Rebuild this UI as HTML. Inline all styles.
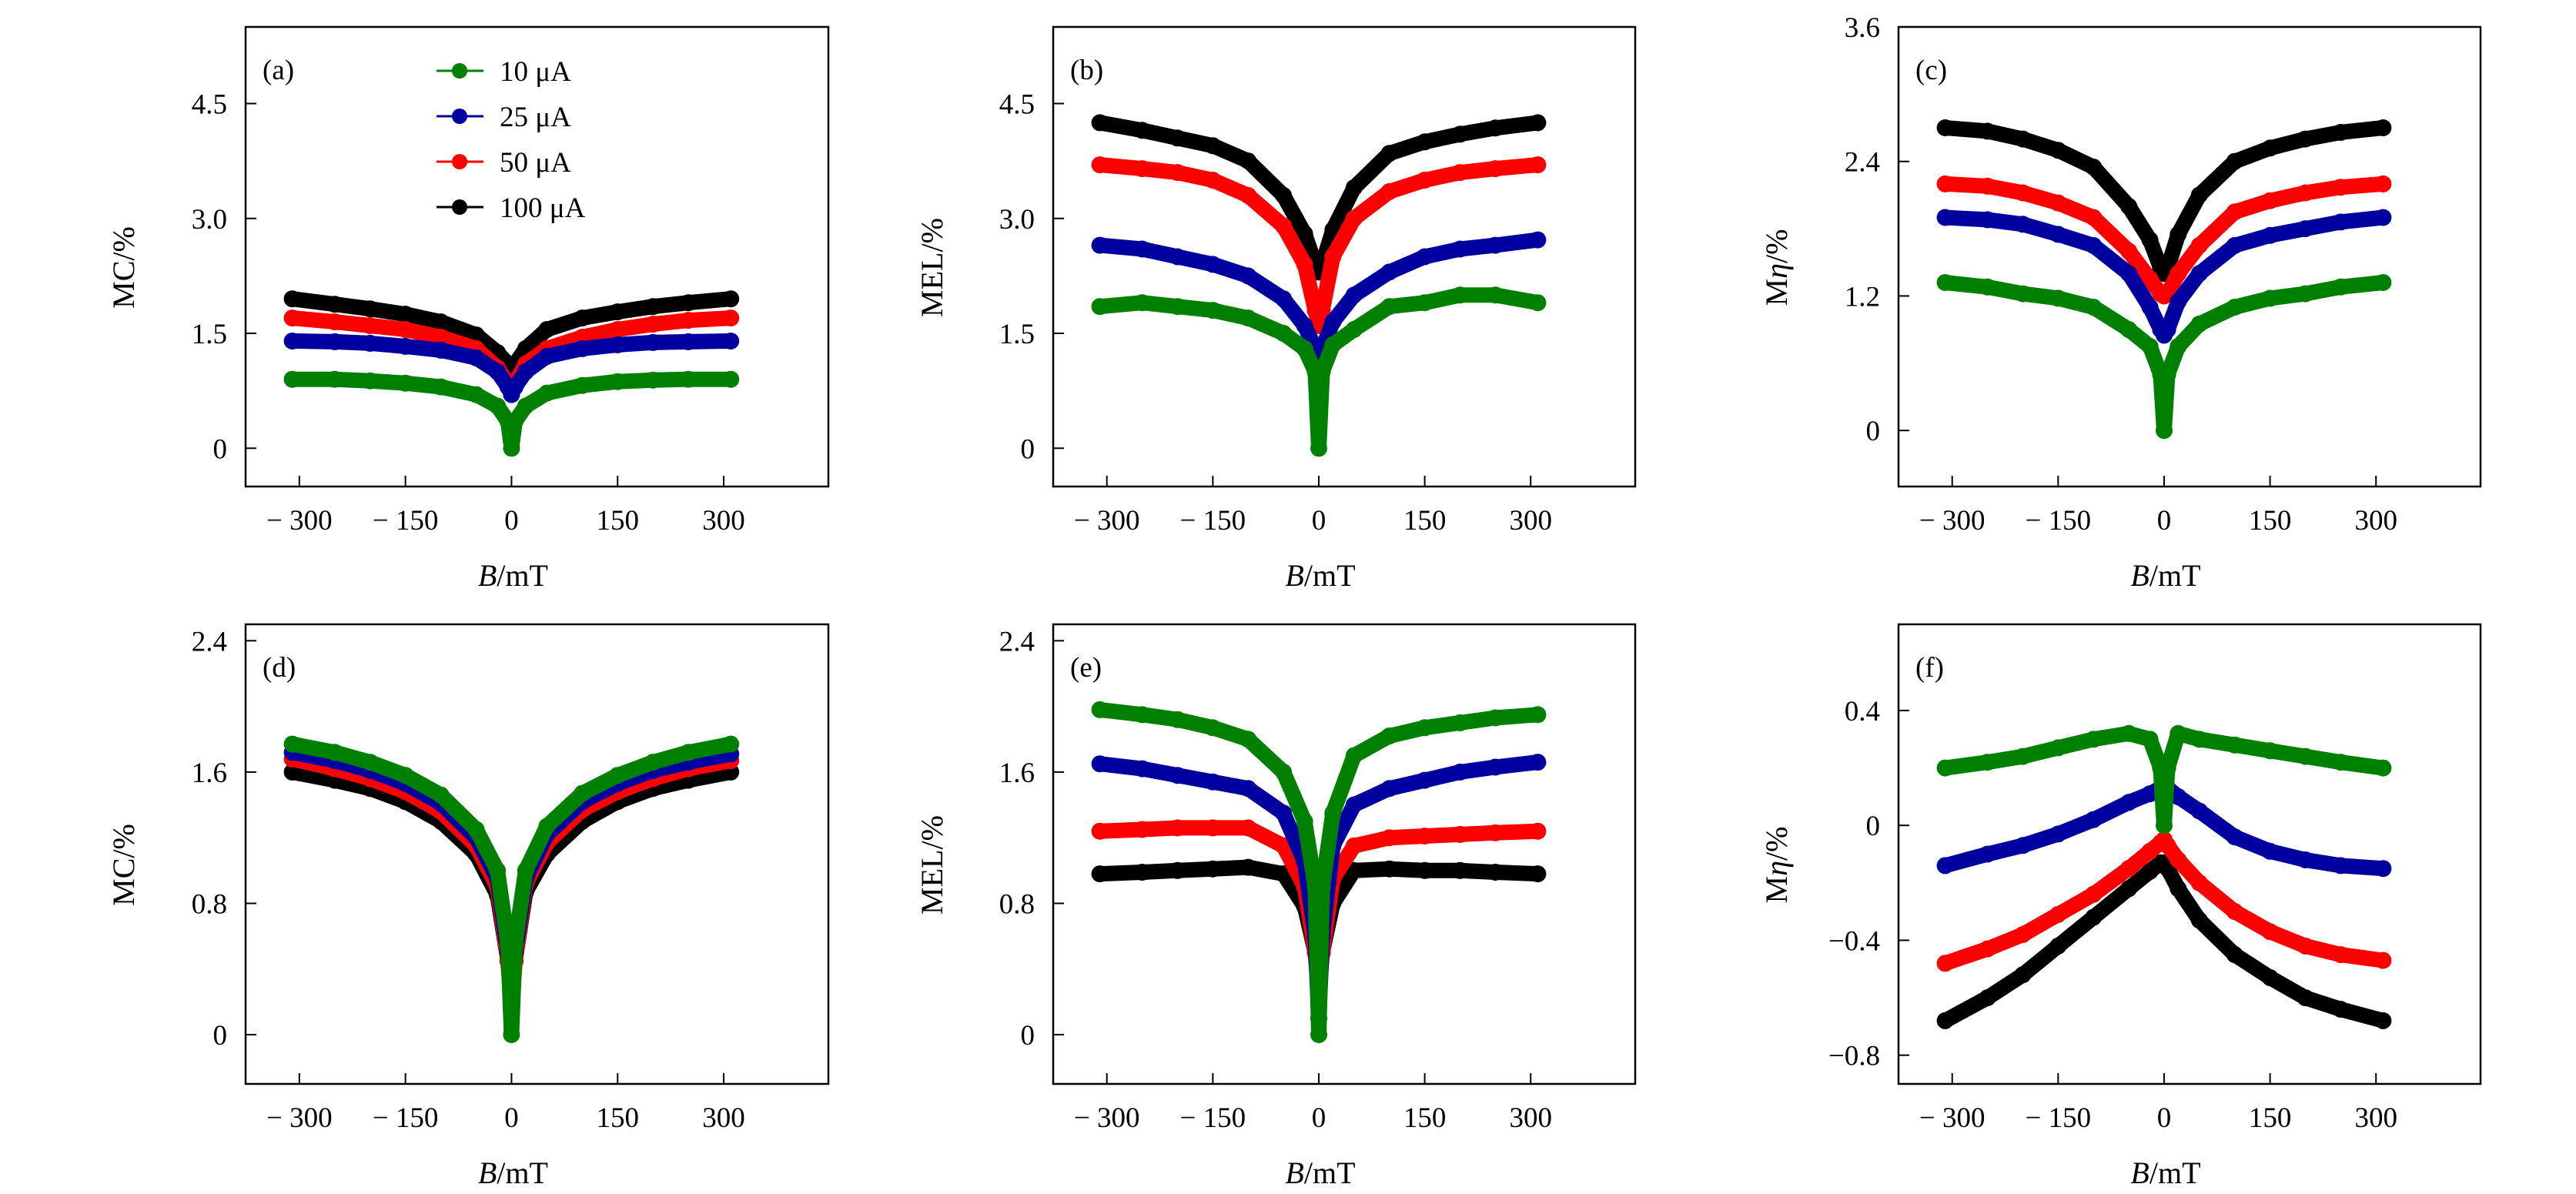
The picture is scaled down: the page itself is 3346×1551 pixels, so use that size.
<!DOCTYPE html>
<html><head><meta charset="utf-8">
<style>
html,body{margin:0;padding:0;background:#fff;}
svg{display:block;}
text{font-family:"Liberation Serif",serif;fill:#000;}
</style></head>
<body>
<svg id="fig" width="3346" height="1551" viewBox="0 0 3346 1551" xmlns="http://www.w3.org/2000/svg"></svg>
<script>
const fieldB = [-310,-250,-200,-150,-100,-50,-20,-5,0,5,20,50,100,150,200,250,310];
const seriesNames = ['10 μA','25 μA','50 μA','100 μA'];
const xTicks = [-300,-150,0,150,300];

const aGreen = [0.9,0.9,0.88,0.85,0.8,0.7,0.55,0.35,0.0,0.35,0.55,0.72,0.82,0.87,0.89,0.9,0.9];
const aBlue  = [1.4,1.39,1.37,1.33,1.28,1.18,1.0,0.8,0.7,0.8,1.0,1.2,1.3,1.35,1.38,1.39,1.4];
const aRed   = [1.7,1.65,1.6,1.55,1.45,1.3,1.05,0.85,0.8,0.85,1.1,1.3,1.45,1.55,1.62,1.67,1.7];
const aBlack = [1.95,1.88,1.82,1.75,1.65,1.48,1.25,1.1,1.0,1.1,1.3,1.55,1.7,1.78,1.85,1.9,1.95];

const bGreen = [1.85,1.9,1.85,1.8,1.7,1.5,1.3,1.0,0.0,1.0,1.35,1.55,1.85,1.9,2.0,2.0,1.9];
const bBlue  = [2.65,2.6,2.5,2.4,2.25,1.95,1.6,1.3,1.2,1.3,1.65,2.0,2.3,2.5,2.6,2.65,2.72];
const bRed   = [3.7,3.65,3.6,3.5,3.3,2.9,2.4,1.8,1.6,1.8,2.5,3.0,3.35,3.5,3.6,3.65,3.7];
const bBlack = [4.25,4.15,4.05,3.95,3.75,3.3,2.8,2.4,2.3,2.4,2.85,3.4,3.85,4.0,4.1,4.18,4.25];

const cGreen = [1.32,1.28,1.22,1.18,1.1,0.9,0.75,0.5,0.0,0.5,0.75,0.95,1.1,1.18,1.22,1.28,1.32];
const cBlue  = [1.9,1.88,1.84,1.75,1.65,1.4,1.1,0.9,0.85,0.9,1.15,1.4,1.65,1.74,1.8,1.86,1.9];
const cRed   = [2.2,2.18,2.12,2.03,1.9,1.6,1.35,1.22,1.2,1.22,1.4,1.65,1.95,2.05,2.12,2.17,2.2];
const cBlack = [2.7,2.67,2.6,2.5,2.35,2.0,1.7,1.45,1.4,1.45,1.75,2.1,2.4,2.52,2.6,2.66,2.7];

const dGreen = [1.77,1.72,1.66,1.58,1.46,1.25,1.0,0.55,0.0,0.55,1.0,1.27,1.47,1.58,1.66,1.72,1.77];
const dBlue  = [1.72,1.67,1.61,1.53,1.41,1.2,0.95,0.5,0.2,0.5,0.95,1.22,1.42,1.53,1.61,1.66,1.71];
const dRed   = [1.68,1.62,1.56,1.48,1.36,1.15,0.9,0.45,0.15,0.45,0.92,1.17,1.37,1.48,1.56,1.62,1.67];
const dBlack = [1.6,1.55,1.5,1.42,1.3,1.1,0.85,0.45,0.2,0.45,0.87,1.1,1.3,1.42,1.5,1.55,1.6];

const eGreen = [1.98,1.95,1.92,1.87,1.8,1.6,1.3,0.9,0.0,0.9,1.35,1.7,1.82,1.87,1.9,1.93,1.95];
const eBlue  = [1.65,1.62,1.58,1.54,1.5,1.35,1.05,0.6,0.1,0.6,1.15,1.4,1.5,1.55,1.6,1.63,1.66];
const eRed   = [1.24,1.25,1.26,1.26,1.26,1.15,0.9,0.5,0.25,0.5,0.95,1.15,1.2,1.21,1.22,1.23,1.24];
const eBlack = [0.98,0.99,1.0,1.01,1.02,0.98,0.78,0.5,0.35,0.5,0.8,1.0,1.01,1.0,1.0,0.99,0.98];

const fGreen = [0.2,0.22,0.24,0.27,0.3,0.32,0.3,0.2,0.0,0.2,0.32,0.3,0.28,0.26,0.24,0.22,0.2];
const fBlue  = [-0.14,-0.1,-0.07,-0.03,0.02,0.08,0.11,0.13,0.13,0.13,0.1,0.05,-0.04,-0.09,-0.12,-0.14,-0.15];
const fRed   = [-0.48,-0.43,-0.38,-0.31,-0.24,-0.15,-0.09,-0.06,-0.05,-0.07,-0.12,-0.2,-0.3,-0.37,-0.42,-0.45,-0.47];
const fBlack = [-0.68,-0.6,-0.52,-0.42,-0.32,-0.22,-0.16,-0.13,-0.13,-0.15,-0.22,-0.33,-0.45,-0.53,-0.6,-0.64,-0.68];

const NS = 'http://www.w3.org/2000/svg';
const svg = document.getElementById('fig');
function mk(tag, attrs, parent){
  const e = document.createElementNS(NS, tag);
  for (const k in attrs) e.setAttribute(k, attrs[k]);
  (parent||svg).appendChild(e);
  return e;
}
const colors = {g:'#008000', b:'#0000a0', r:'#ff0000', k:'#000000'};

const panels = [
  {id:'a', x0:319, x1:1076, y0:35, y1:632, ymin:-0.5, ymax:5.5, yt:[0,1.5,3.0,4.5], yl:['0','1.5','3.0','4.5'], title:'MC/%', tx:160, s:[aBlack,aRed,aBlue,aGreen]},
  {id:'b', x0:1368, x1:2124, y0:35, y1:632, ymin:-0.5, ymax:5.5, yt:[0,1.5,3.0,4.5], yl:['0','1.5','3.0','4.5'], title:'MEL/%', tx:1210, s:[bBlack,bRed,bBlue,bGreen]},
  {id:'c', x0:2466, x1:3222, y0:35, y1:632, ymin:-0.5, ymax:3.6, yt:[0,1.2,2.4,3.6], yl:['0','1.2','2.4','3.6'], title:'Mη/%', tx:2307, s:[cBlack,cRed,cBlue,cGreen]},
  {id:'d', x0:319, x1:1076, y0:811, y1:1408, ymin:-0.3, ymax:2.5, yt:[0,0.8,1.6,2.4], yl:['0','0.8','1.6','2.4'], title:'MC/%', tx:160, s:[dBlack,dRed,dBlue,dGreen]},
  {id:'e', x0:1368, x1:2124, y0:811, y1:1408, ymin:-0.3, ymax:2.5, yt:[0,0.8,1.6,2.4], yl:['0','0.8','1.6','2.4'], title:'MEL/%', tx:1210, s:[eBlack,eRed,eBlue,eGreen]},
  {id:'f', x0:2466, x1:3222, y0:811, y1:1408, ymin:-0.9, ymax:0.7, yt:[-0.8,-0.4,0,0.4], yl:['−0.8','−0.4','0','0.4'], title:'Mη/%', tx:2307, s:[fBlack,fRed,fBlue,fGreen]}
];
const seriesColors = [colors.k, colors.r, colors.b, colors.g];
const seriesKeys = ['100uA','50uA','25uA','10uA'];

panels.forEach(p => {
  const g = mk('g', {});
  
  
  const xs = v => p.x0 + (v + 376) / 824 * (p.x1 - p.x0);
  const ys = v => p.y1 - (v - p.ymin) / (p.ymax - p.ymin) * (p.y1 - p.y0);
  // series
  p.s.forEach((arr, si) => {
    const sg = mk('g', {fill: seriesColors[si], stroke: seriesColors[si]}, g);
    
    
    const pts = fieldB.map((b, i) => xs(b).toFixed(1) + ',' + ys(arr[i]).toFixed(1)).join(' ');
    const pl = mk('polyline', {points: pts, fill: 'none', 'stroke-width': 20, 'stroke-linejoin': 'round', 'stroke-linecap': 'round'}, sg);
    
    
    fieldB.forEach((b, i) => {
      const c = mk('circle', {cx: xs(b).toFixed(1), cy: ys(arr[i]).toFixed(1), r: 11, stroke: 'none'}, sg);
      
      
    });
  });
  // frame
  const fr = mk('rect', {x: p.x0, y: p.y0, width: p.x1 - p.x0, height: p.y1 - p.y0, fill: 'none', stroke: '#000', 'stroke-width': 2.5}, g);
  
  
  // x ticks
  xTicks.forEach(t => {
    const x = xs(t);
    const tl = mk('line', {x1: x, x2: x, y1: p.y1, y2: p.y1 - 14, stroke: '#000', 'stroke-width': 2}, g);
    
    
    const tx = mk('text', {x: x, y: p.y1 + 56, 'font-size': 37, 'text-anchor': 'middle'}, g);
    
    
    tx.textContent = t < 0 ? '− ' + (-t) : String(t);
  });
  // y ticks
  p.yt.forEach((t, i) => {
    const y = ys(t);
    const tl = mk('line', {x1: p.x0, x2: p.x0 + 14, y1: y, y2: y, stroke: '#000', 'stroke-width': 2}, g);
    
    
    const tx = mk('text', {x: p.x0 - 24, y: y + 13, 'font-size': 37, 'text-anchor': 'end'}, g);
    
    
    tx.textContent = p.yl[i];
  });
  // x title
  const xt = mk('text', {x: (xs(0) + 2), y: p.y1 + 129, 'font-size': 40, 'text-anchor': 'middle'}, g);
  
  
  xt.innerHTML = '<tspan font-style="italic">B</tspan>/mT';
  // y title
  const cy = (p.y0 + p.y1) / 2;
  const yt = mk('text', {x: p.tx, y: cy, 'font-size': 40, 'text-anchor': 'middle', transform: 'rotate(-90 ' + (p.tx + 14) + ' ' + cy + ')'}, g);
  
  
  if (p.title === 'Mη/%') yt.innerHTML = 'M<tspan font-style="italic">η</tspan>/%';
  else yt.textContent = p.title;
  // panel label
  const pl = mk('text', {x: p.x0 + 22, y: p.y0 + 68, 'font-size': 37}, g);
  
  
  pl.textContent = '(' + p.id + ')';
});

// legend in panel (a)
const legendColors = [colors.g, colors.b, colors.r, colors.k];
const lg = mk('g', {});


seriesNames.forEach((n, i) => {
  const y = 92 + i * 59;
  const eg = mk('g', {}, lg);
  
  
  mk('line', {x1: 567, x2: 628, y1: y, y2: y, stroke: legendColors[i], 'stroke-width': 3}, eg);
  mk('circle', {cx: 597, cy: y, r: 10, fill: legendColors[i]}, eg);
  const t = mk('text', {x: 649, y: y + 13, 'font-size': 37}, eg);
  t.textContent = n;
});
</script>
</body></html>
